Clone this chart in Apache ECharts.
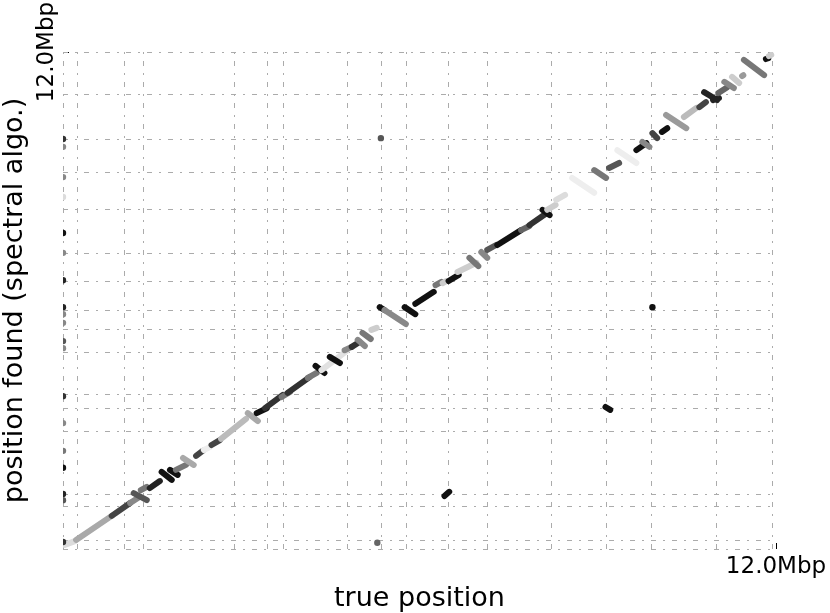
<!DOCTYPE html>
<html>
<head>
<meta charset="utf-8">
<script src="https://cdn.jsdelivr.net/npm/echarts@6/dist/echarts.min.js"></script>
<style>
html, body { margin: 0; padding: 0; background: #fff; }
#chart { width: 830px; height: 613px; }
</style>
</head>
<body>
<div id="chart"></div>
<script>
// contig boundaries in Mbp
const trueBounds = [0, 0.235, 1.025, 1.345, 2.874, 3.429, 3.697, 4.773, 5.345, 5.765, 6.487, 7.143, 8.218, 9.143, 9.899, 10.992, 11.933];
const foundBounds = [0, 0.217, 1.038, 1.328, 2.849, 3.404, 3.742, 4.756, 5.311, 5.770, 6.470, 7.146, 8.209, 9.102, 9.899, 10.985, 12.0];
const axisMax = 12.0;
const tickValues = [12.0];
const tickLabels = ['12.0Mbp'];

// aligned blocks: [true start, found start, true end, found end, shade 0 (black) .. 100 (light)]
const blocks = [
  [0.03, 0.10, 0.20, 0.19, 92],
  [0.22, 0.22, 0.82, 0.80, 69],
  [0.82, 0.80, 1.13, 1.11, 23],
  [1.13, 1.11, 1.26, 1.23, 54],
  [1.19, 1.35, 1.41, 1.18, 31],
  [1.31, 1.42, 1.41, 1.50, 46],
  [1.46, 1.47, 1.63, 1.64, 8],
  [1.66, 1.86, 1.83, 1.67, 0],
  [1.80, 1.91, 1.93, 1.79, 0],
  [1.90, 1.91, 2.07, 2.03, 46],
  [2.02, 2.20, 2.20, 2.03, 69],
  [2.24, 2.25, 2.35, 2.37, 23],
  [2.37, 2.39, 2.47, 2.46, 100],
  [2.50, 2.51, 2.64, 2.63, 23],
  [2.66, 2.66, 3.08, 3.14, 77],
  [3.11, 3.28, 3.28, 3.09, 69],
  [3.26, 3.28, 3.43, 3.40, 0],
  [3.40, 3.40, 3.70, 3.72, 15],
  [3.68, 3.67, 3.82, 3.79, 46],
  [3.78, 3.77, 4.15, 4.15, 15],
  [4.12, 4.13, 4.27, 4.25, 46],
  [4.25, 4.42, 4.40, 4.25, 0],
  [4.35, 4.32, 4.77, 4.78, 94],
  [4.49, 4.64, 4.66, 4.49, 0],
  [4.74, 4.80, 4.86, 4.88, 54],
  [4.86, 4.88, 4.99, 5.00, 15],
  [4.96, 5.05, 5.08, 4.90, 54],
  [5.04, 5.22, 5.18, 5.07, 46],
  [5.19, 5.29, 5.28, 5.34, 85],
  [5.33, 5.84, 5.41, 5.77, 0],
  [5.41, 5.77, 5.77, 5.43, 54],
  [5.75, 5.84, 5.93, 5.67, 0],
  [5.93, 5.92, 6.24, 6.21, 0],
  [6.27, 6.37, 6.37, 6.45, 46],
  [6.39, 6.42, 6.45, 6.47, 85],
  [6.49, 6.47, 6.66, 6.62, 0],
  [6.64, 6.69, 6.96, 6.91, 85],
  [6.84, 7.03, 6.99, 6.83, 46],
  [7.04, 7.17, 7.14, 7.03, 54],
  [7.14, 7.22, 7.29, 7.34, 31],
  [7.31, 7.34, 7.71, 7.70, 0],
  [7.71, 7.70, 7.85, 7.80, 38],
  [7.85, 7.82, 8.12, 8.09, 15],
  [8.07, 8.19, 8.19, 8.06, 0],
  [8.15, 8.19, 8.29, 8.31, 85],
  [8.30, 8.43, 8.45, 8.55, 92],
  [8.57, 8.96, 8.94, 8.60, 100],
  [8.94, 9.15, 9.14, 8.96, 46],
  [9.19, 9.20, 9.36, 9.32, 31],
  [9.33, 9.63, 9.65, 9.32, 100],
  [9.65, 9.63, 9.82, 9.80, 0],
  [9.75, 9.83, 9.87, 9.71, 54],
  [9.92, 10.04, 10.00, 9.92, 23],
  [10.08, 10.07, 10.17, 10.16, 0],
  [10.15, 10.48, 10.49, 10.16, 62],
  [10.45, 10.43, 10.66, 10.65, 77],
  [10.71, 10.67, 10.82, 10.79, 23],
  [10.79, 11.03, 11.01, 10.84, 8],
  [10.94, 10.84, 11.04, 10.89, 8],
  [11.03, 11.01, 11.18, 11.15, 38],
  [11.13, 11.28, 11.29, 11.13, 54],
  [11.26, 11.40, 11.38, 11.25, 85],
  [11.43, 11.42, 11.45, 11.44, 62],
  [11.46, 11.81, 11.80, 11.44, 46],
  [11.83, 11.83, 11.87, 11.85, 0],
  [11.88, 11.90, 11.92, 11.93, 85],
  [6.42, 1.28, 6.50, 1.38, 0],
  [9.13, 3.43, 9.21, 3.36, 0]
];

// single reads: [true pos, found pos, shade]
const points = [
  [5.35, 9.92, 31], [9.92, 5.84, 0], [5.29, 0.15, 38],
  [0.0, 9.90, 15], [0.0, 9.71, 54], [0.0, 8.98, 54], [0.0, 8.50, 92],
  [0.0, 7.63, 0], [0.0, 7.15, 54], [0.0, 6.49, 8], [0.0, 5.84, 8],
  [0.0, 5.67, 54], [0.0, 5.46, 54], [0.0, 5.02, 31], [0.0, 4.85, 54],
  [0.0, 3.69, 15], [0.0, 3.04, 54], [0.0, 2.37, 46], [0.0, 1.96, 0],
  [0.0, 1.33, 8], [0.0, 1.18, 31], [0.0, 0.17, 15]
];

function shadeColor(s) {
  const g = Math.round(17 + s * 2.21);
  return 'rgb(' + g + ',' + g + ',' + g + ')';
}

const gridStyle = { stroke: '#ababab', lineWidth: 1, lineDash: [5, 7, 2, 7] };
const fontFamily = 'DejaVu Sans';

const chart = echarts.init(document.getElementById('chart'));
const option = {
  animation: false,
  grid: { left: 63, right: 54, top: 52, bottom: 64, containLabel: false, outerBoundsMode: 'none' },
  xAxis: {
    type: 'value',
    min: 0,
    max: axisMax,
    interval: axisMax,
    name: 'true position',
    nameLocation: 'middle',
    nameGap: 36,
    nameTextStyle: { fontSize: 27, color: '#000', fontFamily: fontFamily },
    axisLine: { show: false },
    splitLine: { show: false },
    axisTick: { show: true, inside: true, length: 6, customValues: tickValues, lineStyle: { color: '#000' } },
    axisLabel: {
      customValues: tickValues,
      formatter: function (v) { return tickLabels[tickValues.indexOf(v)] || ''; },
      fontSize: 23, color: '#000', fontFamily: fontFamily, margin: 7
    }
  },
  yAxis: {
    type: 'value',
    min: 0,
    max: axisMax,
    interval: axisMax,
    name: 'position found (spectral algo.)',
    nameLocation: 'middle',
    nameGap: 29,
    nameTextStyle: { fontSize: 27, color: '#000', fontFamily: fontFamily },
    axisLine: { show: false },
    splitLine: { show: false },
    axisTick: { show: true, inside: true, length: 6, customValues: tickValues, lineStyle: { color: '#000' } },
    axisLabel: {
      customValues: tickValues,
      rotate: 90,
      formatter: function (v) { return tickLabels[tickValues.indexOf(v)] || ''; },
      fontSize: 23, color: '#000', fontFamily: fontFamily, margin: 4
    }
  },
  series: [
    {
      type: 'custom',
      silent: true,
      z: 1,
      data: trueBounds.map(function (v) { return [v, 0]; }),
      renderItem: function (params, api) {
        const a = api.coord([api.value(0), 0]);
        const b = api.coord([api.value(0), axisMax]);
        const x = Math.round(a[0]) + 0.5;
        return { type: 'line', shape: { x1: x, y1: a[1], x2: x, y2: b[1] }, style: gridStyle };
      }
    },
    {
      type: 'custom',
      silent: true,
      z: 1,
      data: foundBounds.map(function (v) { return [0, v]; }),
      renderItem: function (params, api) {
        const a = api.coord([0, api.value(1)]);
        const b = api.coord([trueBounds[trueBounds.length - 1], api.value(1)]);
        const y = Math.round(a[1]) + 0.5;
        return { type: 'line', shape: { x1: a[0], y1: y, x2: b[0], y2: y }, style: gridStyle };
      }
    },
    {
      type: 'custom',
      z: 3,
      clip: true,
      data: blocks,
      encode: { x: [0, 2], y: [1, 3] },
      renderItem: function (params, api) {
        const a = api.coord([api.value(0), api.value(1)]);
        const b = api.coord([api.value(2), api.value(3)]);
        return {
          type: 'line',
          shape: { x1: a[0], y1: a[1], x2: b[0], y2: b[1] },
          style: { stroke: shadeColor(api.value(4)), lineWidth: 6, lineCap: 'round' }
        };
      }
    },
    {
      type: 'custom',
      z: 4,
      clip: true,
      data: points,
      encode: { x: 0, y: 1 },
      renderItem: function (params, api) {
        const c = api.coord([api.value(0), api.value(1)]);
        return {
          type: 'circle',
          shape: { cx: c[0], cy: c[1], r: 3.2 },
          style: { fill: shadeColor(api.value(2)) }
        };
      }
    }
  ]
};
chart.setOption(option);
</script>
</body>
</html>
